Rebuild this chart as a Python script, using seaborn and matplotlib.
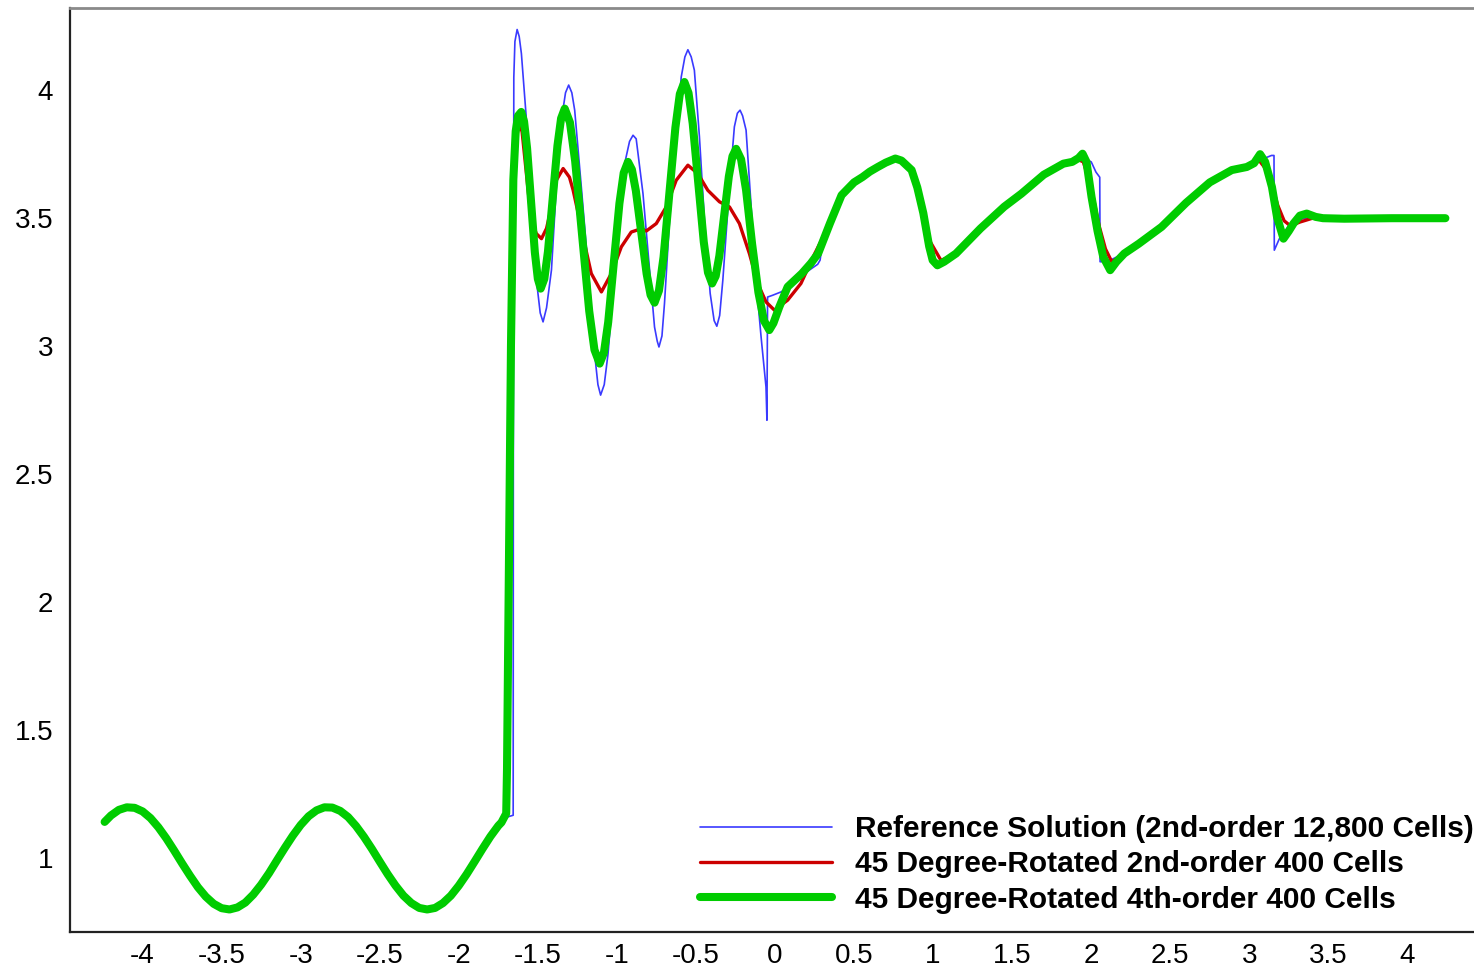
import numpy as np
import pandas as pd
import matplotlib
matplotlib.use("Agg")
import matplotlib.pyplot as plt
import seaborn as sns

# shared smooth pre-shock part (all three solutions coincide here)
pre_x = [-4.24, -4.20, -4.15, -4.10, -4.05, -4.00, -3.95, -3.90, -3.85, -3.80, -3.75, -3.70, -3.65,
         -3.60, -3.55, -3.50, -3.45, -3.40, -3.35, -3.30, -3.25, -3.20, -3.15, -3.10, -3.05, -3.00,
         -2.95, -2.90, -2.85, -2.80, -2.75, -2.70, -2.65, -2.60, -2.55, -2.50, -2.45, -2.40, -2.35,
         -2.30, -2.25, -2.20, -2.15, -2.10, -2.05, -2.00, -1.95, -1.90, -1.85, -1.80, -1.75, -1.73]
pre_y = [1.142, 1.167, 1.189, 1.199, 1.197, 1.183, 1.157, 1.121, 1.078, 1.030, 0.980, 0.932, 0.887,
         0.850, 0.822, 0.805, 0.800, 0.808, 0.827, 0.858, 0.897, 0.942, 0.992, 1.041, 1.088, 1.130,
         1.164, 1.187, 1.199, 1.198, 1.185, 1.161, 1.126, 1.084, 1.037, 0.987, 0.938, 0.893, 0.854,
         0.825, 0.806, 0.800, 0.806, 0.825, 0.854, 0.893, 0.938, 0.987, 1.037, 1.085, 1.127, 1.140]

# reference solution (2nd-order, 12,800 cells)
ref_x = [-1.70, -1.656, -1.655, -1.652, -1.645, -1.631, -1.618, -1.604, -1.572, -1.540, -1.509, -1.485,
         -1.467, -1.445, -1.414, -1.383, -1.351, -1.325, -1.305, -1.285, -1.267, -1.225, -1.172, -1.141,
         -1.120, -1.103, -1.080, -1.056, -1.004, -0.951, -0.920, -0.898, -0.878, -0.835, -0.793, -0.762,
         -0.745, -0.734, -0.715, -0.699, -0.667, -0.625, -0.593, -0.570, -0.551, -0.530, -0.510, -0.478,
         -0.446, -0.410, -0.385, -0.368, -0.350, -0.330, -0.288, -0.257, -0.238, -0.221, -0.205, -0.183,
         -0.152, -0.120, -0.088, -0.057, -0.051, -0.047, -0.015, 0.038, 0.09, 0.15, 0.20, 0.27, 0.285,
         0.30, 0.31, 0.347, 0.421, 0.5, 0.554, 0.60, 0.65, 0.70, 0.761, 0.80, 0.87, 0.92, 0.95, 0.98, 1.01,
         1.035, 1.07, 1.145, 1.30, 1.45, 1.559, 1.70, 1.824, 1.90, 1.95, 2.00, 2.03, 2.054, 2.056, 2.10,
         2.15, 2.209, 2.30, 2.445, 2.60, 2.75, 2.889, 2.984, 3.066, 3.10, 3.14, 3.156, 3.158, 3.19, 3.25,
         3.30, 3.35, 3.45, 3.60, 3.90, 4.24]
ref_y = [1.16, 1.168, 2.5, 4.05, 4.19, 4.237, 4.21, 4.143, 3.883, 3.544, 3.258, 3.13,
         3.095, 3.15, 3.297, 3.622, 3.883, 3.99, 4.02, 3.99, 3.922, 3.622, 3.232, 2.971,
         2.85, 2.809, 2.85, 2.971, 3.362, 3.713, 3.80, 3.824, 3.81, 3.596, 3.297, 3.075,
         3.02, 2.997, 3.04, 3.167, 3.492, 3.818, 4.052, 4.13, 4.158, 4.13, 4.078, 3.818,
         3.492, 3.206, 3.10, 3.078, 3.12, 3.258, 3.622, 3.857, 3.91, 3.922, 3.90, 3.844,
         3.557, 3.258, 3.036, 2.841, 2.711, 3.192, 3.199, 3.212, 3.232, 3.26, 3.29, 3.32, 3.336,
         3.40, 3.414, 3.479, 3.59, 3.64, 3.661, 3.682, 3.70, 3.717, 3.733, 3.725, 3.69, 3.60, 3.49, 3.37,
         3.325, 3.316, 3.33, 3.362, 3.46, 3.545, 3.596, 3.67, 3.713, 3.73, 3.735, 3.72, 3.68, 3.66, 3.33,
         3.33, 3.345, 3.362, 3.40, 3.466, 3.56, 3.64, 3.688, 3.70, 3.725, 3.735, 3.745, 3.745, 3.375, 3.42,
         3.47, 3.49, 3.50, 3.50, 3.50, 3.50, 3.50]

# 45 degree-rotated 2nd-order, 400 cells
o2_x = [-1.70, -1.695, -1.685, -1.67, -1.655, -1.64, -1.62, -1.60, -1.58, -1.560, -1.540, -1.510, -1.477,
        -1.445, -1.414, -1.383, -1.340, -1.300, -1.277, -1.245, -1.214, -1.162, -1.098, -1.035, -0.972,
        -0.909, -0.846, -0.814, -0.751, -0.688, -0.625, -0.551, -0.488, -0.425, -0.351, -0.288, -0.225,
        -0.162, -0.109, -0.057, -0.004, 0.08, 0.164, 0.25, 0.347, 0.421, 0.5, 0.554, 0.60, 0.65, 0.70,
        0.761, 0.80, 0.864, 0.90, 0.94, 0.98, 1.05, 1.145, 1.30, 1.45, 1.559, 1.70, 1.824, 1.913, 1.95,
        2.0, 2.05, 2.09, 2.13, 2.2, 2.30, 2.445, 2.60, 2.75, 2.889, 2.984, 3.05, 3.12, 3.18, 3.22, 3.26,
        3.32, 3.40, 3.60, 3.90, 4.24]
o2_y = [1.175, 1.35, 2.0, 3.0, 3.6, 3.80, 3.86, 3.84, 3.72, 3.60, 3.492, 3.44, 3.420,
        3.46, 3.544, 3.648, 3.694, 3.66, 3.61, 3.52, 3.427, 3.284, 3.212, 3.284, 3.388,
        3.446, 3.459, 3.45, 3.479, 3.544, 3.648, 3.707, 3.674, 3.609, 3.564, 3.544, 3.479,
        3.362, 3.245, 3.173, 3.141, 3.18, 3.245, 3.36, 3.479, 3.59, 3.64, 3.661, 3.682, 3.70, 3.717,
        3.733, 3.725, 3.688, 3.62, 3.52, 3.41, 3.335, 3.362, 3.46, 3.545, 3.596, 3.67, 3.713, 3.73, 3.72,
        3.62, 3.47, 3.38, 3.33, 3.355, 3.40, 3.466, 3.56, 3.64, 3.688, 3.70, 3.735, 3.68, 3.55, 3.49, 3.47,
        3.485, 3.50, 3.50, 3.50, 3.50]

# 45 degree-rotated 4th-order, 400 cells
o4_x = [-1.70, -1.695, -1.685, -1.67, -1.655, -1.64, -1.625, -1.605,
        -1.587, -1.568, -1.5435, -1.519, -1.500, -1.482,
        -1.459, -1.436, -1.406, -1.376, -1.353, -1.330,
        -1.297, -1.264, -1.2195, -1.175, -1.142, -1.109,
        -1.082, -1.055, -1.0195, -0.984, -0.957, -0.930,
        -0.905, -0.880, -0.846, -0.812, -0.787, -0.762,
        -0.734, -0.705, -0.6675, -0.630, -0.602, -0.573,
        -0.547, -0.5205, -0.4855, -0.4505, -0.424, -0.398,
        -0.375, -0.352, -0.322, -0.292, -0.269, -0.246,
        -0.2145, -0.183, -0.145, -0.105, -0.070, -0.036,
        -0.01, 0.027, 0.08, 0.17, 0.227, 0.273, 0.347, 0.421, 0.5, 0.554, 0.60, 0.65, 0.70, 0.761,
        0.80, 0.864, 0.90, 0.938, 0.975, 0.997, 1.027, 1.07, 1.145, 1.30, 1.45, 1.559, 1.70, 1.824,
        1.88, 1.92, 1.945, 1.97, 2.002, 2.04, 2.076, 2.12, 2.16, 2.209, 2.30, 2.445, 2.60, 2.75, 2.889,
        2.984, 3.03, 3.068, 3.10, 3.143, 3.175, 3.216, 3.25, 3.279, 3.32, 3.363, 3.42, 3.466, 3.60,
        3.90, 4.24]
o4_y = [1.175, 1.35, 2.0, 3.0, 3.65, 3.84, 3.90, 3.915,
        3.877, 3.773, 3.57, 3.367, 3.263, 3.225,
        3.263, 3.370, 3.577, 3.783, 3.890, 3.928,
        3.874, 3.723, 3.43, 3.137, 2.986, 2.932,
        2.975, 3.094, 3.326, 3.558, 3.677, 3.72,
        3.690, 3.607, 3.445, 3.283, 3.200, 3.17,
        3.217, 3.348, 3.601, 3.854, 3.985, 4.032,
        3.989, 3.870, 3.639, 3.407, 3.288, 3.245,
        3.274, 3.353, 3.508, 3.663, 3.742, 3.771,
        3.73, 3.61, 3.40, 3.21, 3.10, 3.063,
        3.09, 3.153, 3.232, 3.284, 3.324, 3.362, 3.479, 3.59, 3.64, 3.661, 3.682, 3.70, 3.717, 3.733,
        3.725, 3.688, 3.62, 3.52, 3.39, 3.336, 3.316, 3.33, 3.362, 3.46, 3.545, 3.596, 3.67, 3.713,
        3.72, 3.735, 3.752, 3.72, 3.583, 3.45, 3.349, 3.297, 3.33, 3.362, 3.40, 3.466, 3.56, 3.64, 3.688,
        3.70, 3.715, 3.75, 3.72, 3.622, 3.505, 3.42, 3.45, 3.479, 3.51, 3.518, 3.505, 3.50, 3.498,
        3.50, 3.50]

labels = ["Reference Solution (2nd-order 12,800 Cells)",
          "45 Degree-Rotated 2nd-order 400 Cells",
          "45 Degree-Rotated 4th-order 400 Cells"]
colors = ["#3a3aff", "#cc0000", "#00cc00"]
widths = [1.2, 2.4, 5.8]

sns.set_style("white", rc={"text.color": "black", "xtick.color": "black",
                           "ytick.color": "black", "axes.labelcolor": "black"})
plt.rcParams['font.family'] = ['Liberation Sans', 'DejaVu Sans']
plt.rcParams['axes.unicode_minus'] = False

fig = plt.figure(figsize=(14.74, 9.67), dpi=100)
ax = fig.add_axes([70 / 1474, 35 / 967, 1404 / 1474, 924 / 967])

series = [(ref_x, ref_y), (o2_x, o2_y), (o4_x, o4_y)]
for (sx, sy), lab, col, lw in zip(series, labels, colors, widths):
    df = pd.DataFrame({"x": pre_x + sx, "y": pre_y + sy})
    sns.lineplot(data=df, x="x", y="y", sort=False, estimator=None, color=col, lw=lw,
                 label=lab, ax=ax, solid_joinstyle="round", solid_capstyle="round")

ax.set_xlim(-4.459, 4.421)
ax.set_ylim(0.712, 4.321)
xt = np.arange(-4, 4.01, 0.5)
ax.set_xticks(xt)
ax.set_xticklabels(["%g" % v for v in xt])
ax.set_yticks([1, 1.5, 2, 2.5, 3, 3.5, 4])
ax.set_yticklabels(["1", "1.5", "2", "2.5", "3", "3.5", "4"])
ax.set_xlabel("")
ax.set_ylabel("")
ax.tick_params(axis="both", length=0, labelsize=20, colors="black")
ax.tick_params(axis="y", pad=12)
ax.tick_params(axis="x", pad=8)

ax.spines["right"].set_visible(False)
ax.spines["top"].set_color("#8a8a8a")
ax.spines["top"].set_linewidth(2.0)
for s in ["left", "bottom"]:
    ax.spines[s].set_color("#222222")
    ax.spines[s].set_linewidth(1.6)

leg = ax.legend(loc="upper left", bbox_to_anchor=(700 / 1474, 1 - 815 / 967),
                bbox_transform=fig.transFigure, frameon=False, borderpad=0, borderaxespad=0,
                handlelength=4.42, handletextpad=0.77, labelspacing=0.25,
                prop={"size": 21.5, "weight": "bold"})
for t in leg.get_texts():
    t.set_color("black")

fig.savefig("out.png", dpi=100)
